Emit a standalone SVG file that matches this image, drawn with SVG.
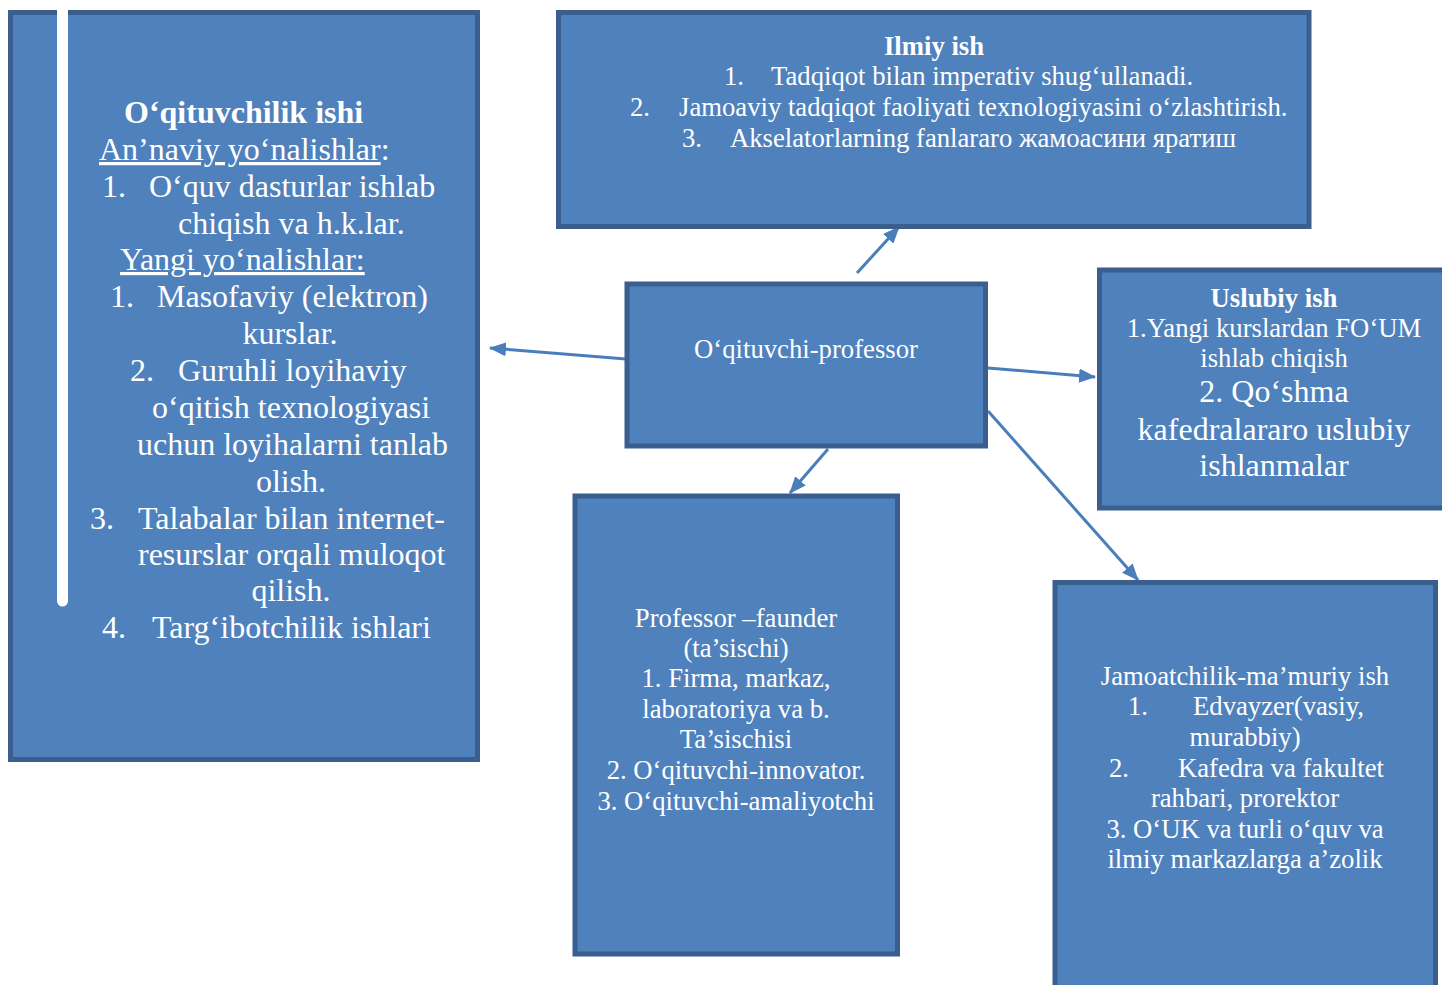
<svg xmlns="http://www.w3.org/2000/svg" width="1442" height="985" viewBox="0 0 1442 985">
<style>
.box{fill:#4F81BD;stroke:#3A5F8F;stroke-width:5}
.t{font-family:"Liberation Serif","Times New Roman",serif;fill:#FFFFFF;font-size:26.7px}
.b{font-weight:bold}
.l{font-size:32px}
.m{text-anchor:middle}
.u{text-decoration:underline}
.conn{stroke:#4A7EBB;stroke-width:3;fill:none}
</style>
<defs>
<marker id="ah" markerUnits="userSpaceOnUse" markerWidth="18" markerHeight="14" refX="16" refY="7" orient="auto">
<path d="M0,0 L17,7 L0,14 Z" fill="#4A7EBB"/>
</marker>
</defs>
<rect width="1442" height="985" fill="#FFFFFF"/>

<g id="connectors">
<line class="conn" x1="857" y1="273" x2="899" y2="227" marker-end="url(#ah)"/>
<line class="conn" x1="626" y1="359" x2="490" y2="348" marker-end="url(#ah)"/>
<line class="conn" x1="988" y1="368" x2="1095" y2="377" marker-end="url(#ah)"/>
<line class="conn" x1="828" y1="449" x2="790" y2="493" marker-end="url(#ah)"/>
<line class="conn" x1="988" y1="411" x2="1138" y2="580" marker-end="url(#ah)"/>
</g>

<g id="oqituvchilik">
<rect class="box" x="10.5" y="12.5" width="467" height="747"/>
<line x1="62.5" y1="-10" x2="62.5" y2="601" stroke="#FFFFFF" stroke-width="11" stroke-linecap="round"/>
<text class="t l b" x="124" y="123">O‘qituvchilik ishi</text>
<text class="t l" x="99" y="160"><tspan class="u">An’naviy yo‘nalishlar</tspan>:</text>
<text class="t l" x="102" y="197">1.</text>
<text class="t l" x="149" y="197">O‘quv dasturlar ishlab</text>
<text class="t l" x="178" y="234">chiqish va h.k.lar.</text>
<text class="t l u" x="120" y="270">Yangi yo‘nalishlar:</text>
<text class="t l" x="110" y="307">1.</text>
<text class="t l" x="157" y="307">Masofaviy (elektron)</text>
<text class="t l m" x="290" y="344">kurslar.</text>
<text class="t l" x="130" y="381">2.</text>
<text class="t l" x="178" y="381">Guruhli loyihaviy</text>
<text class="t l" x="152" y="418">o‘qitish texnologiyasi</text>
<text class="t l" x="137" y="455">uchun loyihalarni tanlab</text>
<text class="t l m" x="291" y="492">olish.</text>
<text class="t l" x="90" y="529">3.</text>
<text class="t l" x="138" y="529">Talabalar bilan internet-</text>
<text class="t l" x="138" y="565">resurslar orqali muloqot</text>
<text class="t l m" x="291" y="601">qilish.</text>
<text class="t l" x="102" y="638">4.</text>
<text class="t l" x="152" y="638">Targ‘ibotchilik ishlari</text>
</g>

<g id="ilmiy">
<rect class="box" x="558.5" y="12.5" width="750.5" height="214"/>
<text class="t b m" x="934" y="55">Ilmiy ish</text>
<text class="t" x="724" y="85">1.</text>
<text class="t" x="771" y="85">Tadqiqot bilan imperativ shug‘ullanadi.</text>
<text class="t" x="630" y="116">2.</text>
<text class="t" x="679" y="116">Jamoaviy tadqiqot faoliyati texnologiyasini o‘zlashtirish.</text>
<text class="t" x="682" y="146.5">3.</text>
<text class="t" x="730" y="146.5">Akselatorlarning fanlararo жамоасини яратиш</text>
</g>

<g id="professor">
<rect class="box" x="627" y="284" width="358.5" height="162"/>
<text class="t m" x="806" y="358">O‘qituvchi-professor</text>
</g>

<g id="uslubiy">
<rect class="box" x="1099.5" y="270" width="360" height="238"/>
<text class="t b m" x="1274" y="307">Uslubiy ish</text>
<text class="t m" x="1274" y="337">1.Yangi kurslardan FO‘UM</text>
<text class="t m" x="1274" y="367">ishlab chiqish</text>
<text class="t l m" x="1274" y="402">2. Qo‘shma</text>
<text class="t l m" x="1274" y="440">kafedralararo uslubiy</text>
<text class="t l m" x="1274" y="476">ishlanmalar</text>
</g>

<g id="faunder">
<rect class="box" x="575" y="496" width="322.5" height="458"/>
<text class="t m" x="736" y="627">Professor –faunder</text>
<text class="t m" x="736" y="657">(ta’sischi)</text>
<text class="t m" x="736" y="687">1. Firma, markaz,</text>
<text class="t m" x="736" y="718">laboratoriya va b.</text>
<text class="t m" x="736" y="748">Ta’sischisi</text>
<text class="t m" x="736" y="779">2. O‘qituvchi-innovator.</text>
<text class="t m" x="736" y="810">3. O‘qituvchi-amaliyotchi</text>
</g>

<g id="jamoatchilik">
<rect class="box" x="1055" y="582.5" width="380.5" height="420"/>
<text class="t m" x="1245" y="685">Jamoatchilik-ma’muriy ish</text>
<text class="t" x="1128" y="715">1.</text>
<text class="t" x="1193" y="715">Edvayzer(vasiy,</text>
<text class="t m" x="1245" y="746">murabbiy)</text>
<text class="t" x="1109" y="777">2.</text>
<text class="t" x="1178" y="777">Kafedra va fakultet</text>
<text class="t m" x="1245" y="807">rahbari, prorektor</text>
<text class="t m" x="1245" y="838">3. O‘UK va turli o‘quv va</text>
<text class="t m" x="1245" y="868">ilmiy markazlarga a’zolik</text>
</g>
</svg>
